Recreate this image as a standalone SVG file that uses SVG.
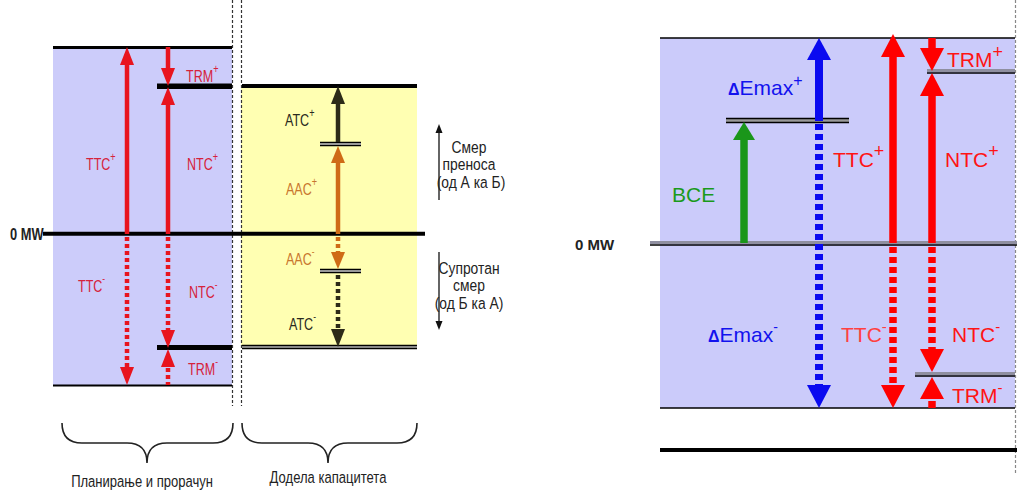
<svg xmlns="http://www.w3.org/2000/svg" width="1017" height="490" viewBox="0 0 1017 490">
<style>
.lt{font-family:"Liberation Sans",Arial,sans-serif;font-size:16.5px}
.rt{font-family:"Liberation Sans",Arial,sans-serif;font-size:21px}
.lred{fill:#d6223a}
.lorg{fill:#c8762e}
.ldark{fill:#2a2a20}
.rred{fill:#ff1414}
.rblue{fill:#1212ee}
.rgreen{fill:#1a9a1a}
.sl{stroke:#e8141e;stroke-width:4.5;fill:none}
.dl{stroke:#e8141e;stroke-width:4.5;fill:none;stroke-dasharray:4 3}
.ha{fill:#e8141e}
.blk{stroke:#000;fill:none}
.vd{stroke:#333;stroke-width:1.2;stroke-dasharray:3 2;fill:none}
.rr{stroke:#ff0000;stroke-width:7.5;fill:none}
.rrd{stroke:#ff0000;stroke-width:7.5;fill:none;stroke-dasharray:6 4}
.rh{fill:#ff0000}
.br{stroke:#222;stroke-width:1.6;fill:none}
</style>
<rect width="1017" height="490" fill="#fff"/>

<!-- LEFT PANEL -->
<g id="left-panel">
  <rect x="53" y="47" width="179" height="338" fill="#ccccfa"/>
  <rect x="241" y="86" width="176" height="261" fill="#ffffb2"/>
  <line class="vd" x1="232.5" y1="0" x2="232.5" y2="406"/>
  <line class="vd" x1="241.5" y1="0" x2="241.5" y2="406"/>
  <line class="blk" x1="53" y1="47.5" x2="232" y2="47.5" stroke-width="3"/>
  <line class="blk" x1="53" y1="385.5" x2="232" y2="385.5" stroke-width="2"/>
  <line class="blk" x1="43" y1="233.8" x2="425" y2="233.8" stroke-width="4"/>
  <line class="blk" x1="157" y1="86.3" x2="232" y2="86.3" stroke-width="5.5"/>
  <line class="blk" x1="157" y1="347.5" x2="232" y2="347.5" stroke-width="5"/>
  <line class="blk" x1="242" y1="86" x2="417" y2="86" stroke-width="4"/>
  <line x1="242" y1="347" x2="417" y2="347" stroke="#888" stroke-width="4"/>
  <line class="blk" x1="242" y1="345.4" x2="417" y2="345.4" stroke-width="1.4"/>
  <line class="blk" x1="242" y1="348.6" x2="417" y2="348.6" stroke-width="1.4"/>
  <text class="lt" font-weight="bold" fill="#222" transform="translate(10 240) scale(0.78 1)" font-size="12">0 MW</text>
</g>

<g id="ttc-left">
  <line class="sl" x1="127" y1="234" x2="127" y2="62"/>
  <polygon class="ha" points="127,47 120,65 134,65"/>
  <line class="dl" x1="127" y1="237" x2="127" y2="369"/>
  <polygon class="ha" points="127,385 120,367 134,367"/>
  <text class="lt lred" transform="translate(86 170) scale(0.76 1)">TTC<tspan dy="-9" font-size="12">+</tspan></text>
  <text class="lt lred" transform="translate(78 292) scale(0.76 1)">TTC<tspan dy="-10" font-size="11">-</tspan></text>
</g>

<g id="ntc-left">
  <line class="sl" x1="168" y1="47" x2="168" y2="72"/>
  <polygon class="ha" points="168,86 161,68 175,68"/>
  <polygon class="ha" points="168,87 161,105 175,105"/>
  <line class="sl" x1="168" y1="100" x2="168" y2="234"/>
  <line class="dl" x1="168" y1="237" x2="168" y2="333"/>
  <polygon class="ha" points="168,348 161,330 175,330"/>
  <polygon class="ha" points="168,349 161,367 175,367"/>
  <line class="dl" x1="168" y1="368" x2="168" y2="385"/>
  <text class="lt lred" transform="translate(186 82) scale(0.76 1)">TRM<tspan dy="-9" font-size="12">+</tspan></text>
  <text class="lt lred" transform="translate(187 170) scale(0.76 1)">NTC<tspan dy="-9" font-size="12">+</tspan></text>
  <text class="lt lred" transform="translate(189 298) scale(0.76 1)">NTC<tspan dy="-10" font-size="11">-</tspan></text>
  <text class="lt lred" transform="translate(188 375) scale(0.76 1)">TRM<tspan dy="-10" font-size="11">-</tspan></text>
</g>

<g id="atc-aac">
  <line x1="320" y1="144" x2="361" y2="144" stroke="#999" stroke-width="4"/>
  <line class="blk" x1="320" y1="142.3" x2="361" y2="142.3" stroke-width="1.3"/>
  <line class="blk" x1="320" y1="145.6" x2="361" y2="145.6" stroke-width="1.3"/>
  <line x1="320" y1="271" x2="361" y2="271" stroke="#999" stroke-width="4"/>
  <line class="blk" x1="320" y1="269.3" x2="361" y2="269.3" stroke-width="1.3"/>
  <line class="blk" x1="320" y1="272.6" x2="361" y2="272.6" stroke-width="1.3"/>
  <line x1="338" y1="142" x2="338" y2="100" stroke="#2d2b18" stroke-width="4.5"/>
  <polygon fill="#2d2b18" points="338,86 331,104 345,104"/>
  <line x1="338" y1="234" x2="338" y2="158" stroke="#cf6b16" stroke-width="4.5"/>
  <polygon fill="#cf6b16" points="338,146 331,163 345,163"/>
  <line x1="338" y1="237" x2="338" y2="256" stroke="#cf6b16" stroke-width="4.5" stroke-dasharray="4 3"/>
  <polygon fill="#cf6b16" points="338,269 331,252 345,252"/>
  <line x1="338" y1="275" x2="338" y2="331" stroke="#2d2b18" stroke-width="4.5" stroke-dasharray="4 3"/>
  <polygon fill="#2d2b18" points="338,347 331,329 345,329"/>
  <text class="lt ldark" transform="translate(285 126) scale(0.76 1)">ATC<tspan dy="-9" font-size="12">+</tspan></text>
  <text class="lt lorg" transform="translate(286 195) scale(0.76 1)">AAC<tspan dy="-9" font-size="12">+</tspan></text>
  <text class="lt lorg" transform="translate(286 265) scale(0.76 1)">AAC<tspan dy="-10" font-size="11">-</tspan></text>
  <text class="lt ldark" transform="translate(289 330) scale(0.76 1)">ATC<tspan dy="-10" font-size="11">-</tspan></text>
</g>

<g id="direction">
  <line x1="439" y1="200" x2="439" y2="131" stroke="#111" stroke-width="1.3"/>
  <polygon fill="#111" points="439,124 435.5,133 442.5,133"/>
  <line x1="439" y1="252" x2="439" y2="321" stroke="#111" stroke-width="1.3"/>
  <polygon fill="#111" points="439,330 435.5,321 442.5,321"/>
  <g class="lt" fill="#222" font-size="12.5" text-anchor="middle">
    <text transform="translate(469 153) scale(0.84 1)">Смер</text>
    <text transform="translate(469 170) scale(0.84 1)">преноса</text>
    <text transform="translate(471 188) scale(0.84 1)">(од А ка Б)</text>
    <text transform="translate(469 274) scale(0.84 1)">Супротан</text>
    <text transform="translate(469 291) scale(0.84 1)">смер</text>
    <text transform="translate(469 309) scale(0.84 1)">(од Б ка А)</text>
  </g>
</g>

<g id="braces">
  <path class="br" d="M62,423 Q62,443 82,443 L127,443 Q147,443 147,463 Q147,443 167,443 L213,443 Q233,443 233,423"/>
  <path class="br" d="M242,423 Q242,443 262,443 L308,443 Q328,443 328,463 Q328,443 348,443 L397,443 Q417,443 417,423"/>
  <text class="lt" fill="#222" font-size="14.5" text-anchor="middle" transform="translate(142 487) scale(0.79 1)">Планирање и прорачун</text>
  <text class="lt" fill="#222" font-size="14.5" text-anchor="middle" transform="translate(328 483) scale(0.79 1)">Додела капацитета</text>
</g>

<!-- RIGHT PANEL -->
<g id="right-panel">
  <rect x="660" y="38" width="355" height="370" fill="#cbcbfa"/>
  <line x1="1015.5" y1="0" x2="1015.5" y2="474" stroke="#888" stroke-width="1.2" stroke-dasharray="3 2"/>
  <line class="blk" x1="660" y1="38" x2="1015" y2="38" stroke-width="1.6"/>
  <line class="blk" x1="660" y1="408" x2="1015" y2="408" stroke-width="1.6"/>
  <line x1="650" y1="242.5" x2="1017" y2="242.5" stroke="#8f8fa0" stroke-width="3"/>
  <line class="blk" x1="650" y1="245" x2="1017" y2="245" stroke-width="1.5"/>
  <line class="blk" x1="660" y1="450" x2="1017" y2="450" stroke-width="4"/>
  <text x="575" y="250" font-family="Liberation Sans, Arial, sans-serif" font-size="15" font-weight="bold" fill="#222">0 MW</text>
</g>

<g id="bce">
  <line x1="726" y1="120.5" x2="849" y2="120.5" stroke="#999" stroke-width="4"/>
  <line class="blk" x1="726" y1="118.5" x2="849" y2="118.5" stroke-width="1.5"/>
  <line class="blk" x1="726" y1="122.5" x2="849" y2="122.5" stroke-width="1.5"/>
  <line x1="744" y1="243" x2="744" y2="136" stroke="#1a961a" stroke-width="7.5"/>
  <polygon fill="#1a961a" points="744,122 733,140 755,140"/>
  <text class="rt rgreen" x="672" y="202">BCE</text>
</g>

<g id="emax">
  <line x1="819" y1="121" x2="819" y2="56" stroke="#0a0af0" stroke-width="8"/>
  <polygon fill="#0a0af0" points="819,38 807,60 831,60"/>
  <line x1="819" y1="124" x2="819" y2="387" stroke="#0a0af0" stroke-width="8" stroke-dasharray="6 4"/>
  <polygon fill="#0a0af0" points="819,408 807,385 831,385"/>
  <text class="rt rblue" x="728" y="95" font-size="19"><tspan font-weight="bold" font-size="16">Δ</tspan>Emax<tspan dy="-9" font-size="16">+</tspan></text>
  <text class="rt rblue" x="708" y="342" font-size="19"><tspan font-weight="bold" font-size="16">Δ</tspan>Emax<tspan dy="-10" font-size="14">-</tspan></text>
</g>

<g id="ttc-right">
  <line class="rr" x1="893" y1="243" x2="893" y2="54"/>
  <polygon class="rh" points="893,34 881,57 905,57"/>
  <line class="rrd" x1="893" y1="247" x2="893" y2="387"/>
  <polygon class="rh" points="893,408 881,385 905,385"/>
  <text class="rt rred" x="833" y="167">TTC<tspan dy="-10" font-size="18">+</tspan></text>
  <text class="rt" fill="#ff4040" x="841" y="342">TTC<tspan dy="-10" font-size="15">-</tspan></text>
</g>

<g id="ntc-right">
  <line x1="927" y1="70.5" x2="1015" y2="70.5" stroke="#8f8fa0" stroke-width="3"/>
  <line class="blk" x1="927" y1="73" x2="1015" y2="73" stroke-width="1.5"/>
  <line x1="915" y1="373.5" x2="1015" y2="373.5" stroke="#8f8fa0" stroke-width="3"/>
  <line class="blk" x1="915" y1="376" x2="1015" y2="376" stroke-width="1.5"/>
  <line class="rr" x1="932" y1="38" x2="932" y2="52" stroke-width="8"/>
  <polygon class="rh" points="932,71 920,48 944,48"/>
  <polygon class="rh" points="932,73 920,96 944,96"/>
  <line class="rr" x1="932" y1="93" x2="932" y2="243" stroke-width="8"/>
  <line class="rrd" x1="932" y1="247" x2="932" y2="353" stroke-width="8"/>
  <polygon class="rh" points="932,372 920,349 944,349"/>
  <polygon class="rh" points="932,377 920,399 944,399"/>
  <line class="rr" x1="932" y1="401" x2="932" y2="408" stroke-width="8"/>
  <text class="rt rred" x="947" y="67">TRM<tspan dy="-9" font-size="18">+</tspan></text>
  <text class="rt rred" x="945" y="167">NTC<tspan dy="-10" font-size="18">+</tspan></text>
  <text class="rt rred" x="952" y="342">NTC<tspan dy="-10" font-size="15">-</tspan></text>
  <text class="rt rred" x="952" y="403">TRM<tspan dy="-10" font-size="15">-</tspan></text>
</g>
</svg>
